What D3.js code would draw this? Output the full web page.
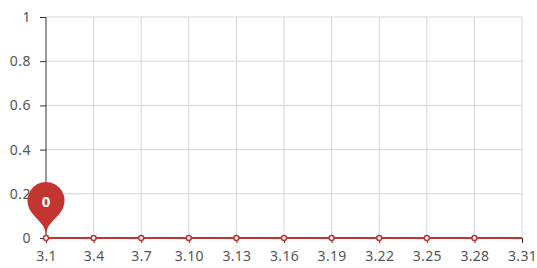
<!DOCTYPE html>
<html>
<head>
<meta charset="utf-8">
<script src="https://cdn.jsdelivr.net/npm/d3@7"></script>
<style>
  body { margin: 0; background: #fff; }
  svg text { font-family: "Microsoft YaHei", "Noto Sans", sans-serif; fill: #555; }
</style>
</head>
<body>
<div id="chart"></div>
<script>
// March, one entry per day
var days = ["3.1", "3.2", "3.3", "3.4", "3.5", "3.6", "3.7", "3.8", "3.9", "3.10",
  "3.11", "3.12", "3.13", "3.14", "3.15", "3.16", "3.17", "3.18", "3.19", "3.20",
  "3.21", "3.22", "3.23", "3.24", "3.25", "3.26", "3.27", "3.28", "3.29", "3.30", "3.31"]
var counts = [0, 0, 0, 0, 0, 0, 0, 0, 0, 0,
  0, 0, 0, 0, 0, 0, 0, 0, 0, 0,
  0, 0, 0, 0, 0, 0, 0, 0, 0, 0, 0]
var yTicks = [0, 0.2, 0.4, 0.6, 0.8, 1]

var width = 537, height = 268
var margin = {top: 17, right: 15, bottom: 30, left: 46}
var red = "#c23531"

var svg = d3.select("#chart").append("svg")
    .attr("width", width)
    .attr("height", height)

var x = d3.scalePoint()
    .domain(days)
    .range([margin.left, width - margin.right])

var y = d3.scaleLinear()
    .domain([0, 1])
    .range([height - margin.bottom, margin.top])

var labelled = days.filter(function(d, i) { return i % 3 === 0; })

// grid
svg.append("g").selectAll("line")
    .data(yTicks.slice(1))
    .enter().append("line")
    .attr("x1", margin.left).attr("x2", width - margin.right)
    .attr("y1", function(d) { return y(d); }).attr("y2", function(d) { return y(d); })
    .attr("stroke", "#d6d6d6")
svg.append("g").selectAll("line")
    .data(labelled.slice(1))
    .enter().append("line")
    .attr("x1", function(d) { return x(d); }).attr("x2", function(d) { return x(d); })
    .attr("y1", margin.top).attr("y2", y(0))
    .attr("stroke", "#d6d6d6")

// y axis
var yAxis = svg.append("g")
    .attr("transform", "translate(" + margin.left + ",0)")
    .call(d3.axisLeft(y).tickValues(yTicks).tickSize(6).tickPadding(9).tickFormat(d3.format("")))
yAxis.selectAll(".tick line").attr("stroke", "#333")
yAxis.selectAll("text").attr("fill", "#555").style("font-size", "14px").style("letter-spacing", "0.5px")

// x axis
var xAxis = svg.append("g")
    .attr("transform", "translate(0," + y(0) + ")")
    .call(d3.axisBottom(x).tickValues(labelled).tickSize(5).tickPadding(8))
xAxis.selectAll(".tick line").attr("stroke", "#333")
xAxis.selectAll("text").attr("fill", "#555").style("font-size", "14px").style("letter-spacing", "0.3px")
svg.selectAll(".domain").remove()
yAxis.append("line").attr("y1", margin.top).attr("y2", y(0)).attr("stroke", "#333")
xAxis.append("line").attr("x1", margin.left).attr("x2", width - margin.right).attr("stroke", "#333")

// line
var line = d3.line()
    .x(function(d, i) { return x(days[i]); })
    .y(function(d) { return y(d); })

svg.append("path")
    .datum(counts)
    .attr("fill", "none")
    .attr("stroke", red)
    .attr("stroke-width", 2)
    .attr("d", line)

svg.append("g").selectAll("circle")
    .data(counts.map(function(d, i) { return {v: d, i: i}; })
      .filter(function(d) { return d.i % 3 === 0 && d.i < days.length - 1; }))
    .enter().append("circle")
    .attr("cx", function(d) { return x(days[d.i]); })
    .attr("cy", function(d) { return y(d.v); })
    .attr("r", 2.5)
    .attr("fill", "#fff")
    .attr("stroke", red)
    .attr("stroke-width", 1.5)

// max marker pin
function pinPath(px, py, size) {
  var w = size / 5 * 3, h = size, r = w / 2
  var dy = r * r / (h - r)
  var cy = py - h + r + dy
  var angle = Math.asin(dy / r)
  var dx = Math.cos(angle) * r
  var tanX = Math.sin(angle), tanY = Math.cos(angle)
  var cp = r * 0.6, cp2 = r * 0.7
  var p = d3.path()
  p.moveTo(px - dx, cy + dy)
  p.arc(px, cy, r, Math.PI - angle, Math.PI * 2 + angle)
  p.bezierCurveTo(px + dx - tanX * cp, cy + dy + tanY * cp, px, py - cp2, px, py)
  p.bezierCurveTo(px, py - cp2, px - dx + tanX * cp, cy + dy + tanY * cp, px - dx, cy + dy)
  p.closePath()
  return {d: p.toString(), cy: cy}
}

var maxIdx = counts.indexOf(d3.max(counts))
var pin = pinPath(x(days[maxIdx]), y(counts[maxIdx]) - 2, 62)
svg.append("path").attr("d", pin.d).attr("fill", red)
svg.append("text")
    .attr("x", x(days[maxIdx]))
    .attr("y", pin.cy)
    .attr("text-anchor", "middle")
    .attr("dominant-baseline", "central")
    .style("fill", "#fff")
    .style("font-size", "15px")
    .style("font-weight", "bold")
    .text(counts[maxIdx])
</script>
</body>
</html>
